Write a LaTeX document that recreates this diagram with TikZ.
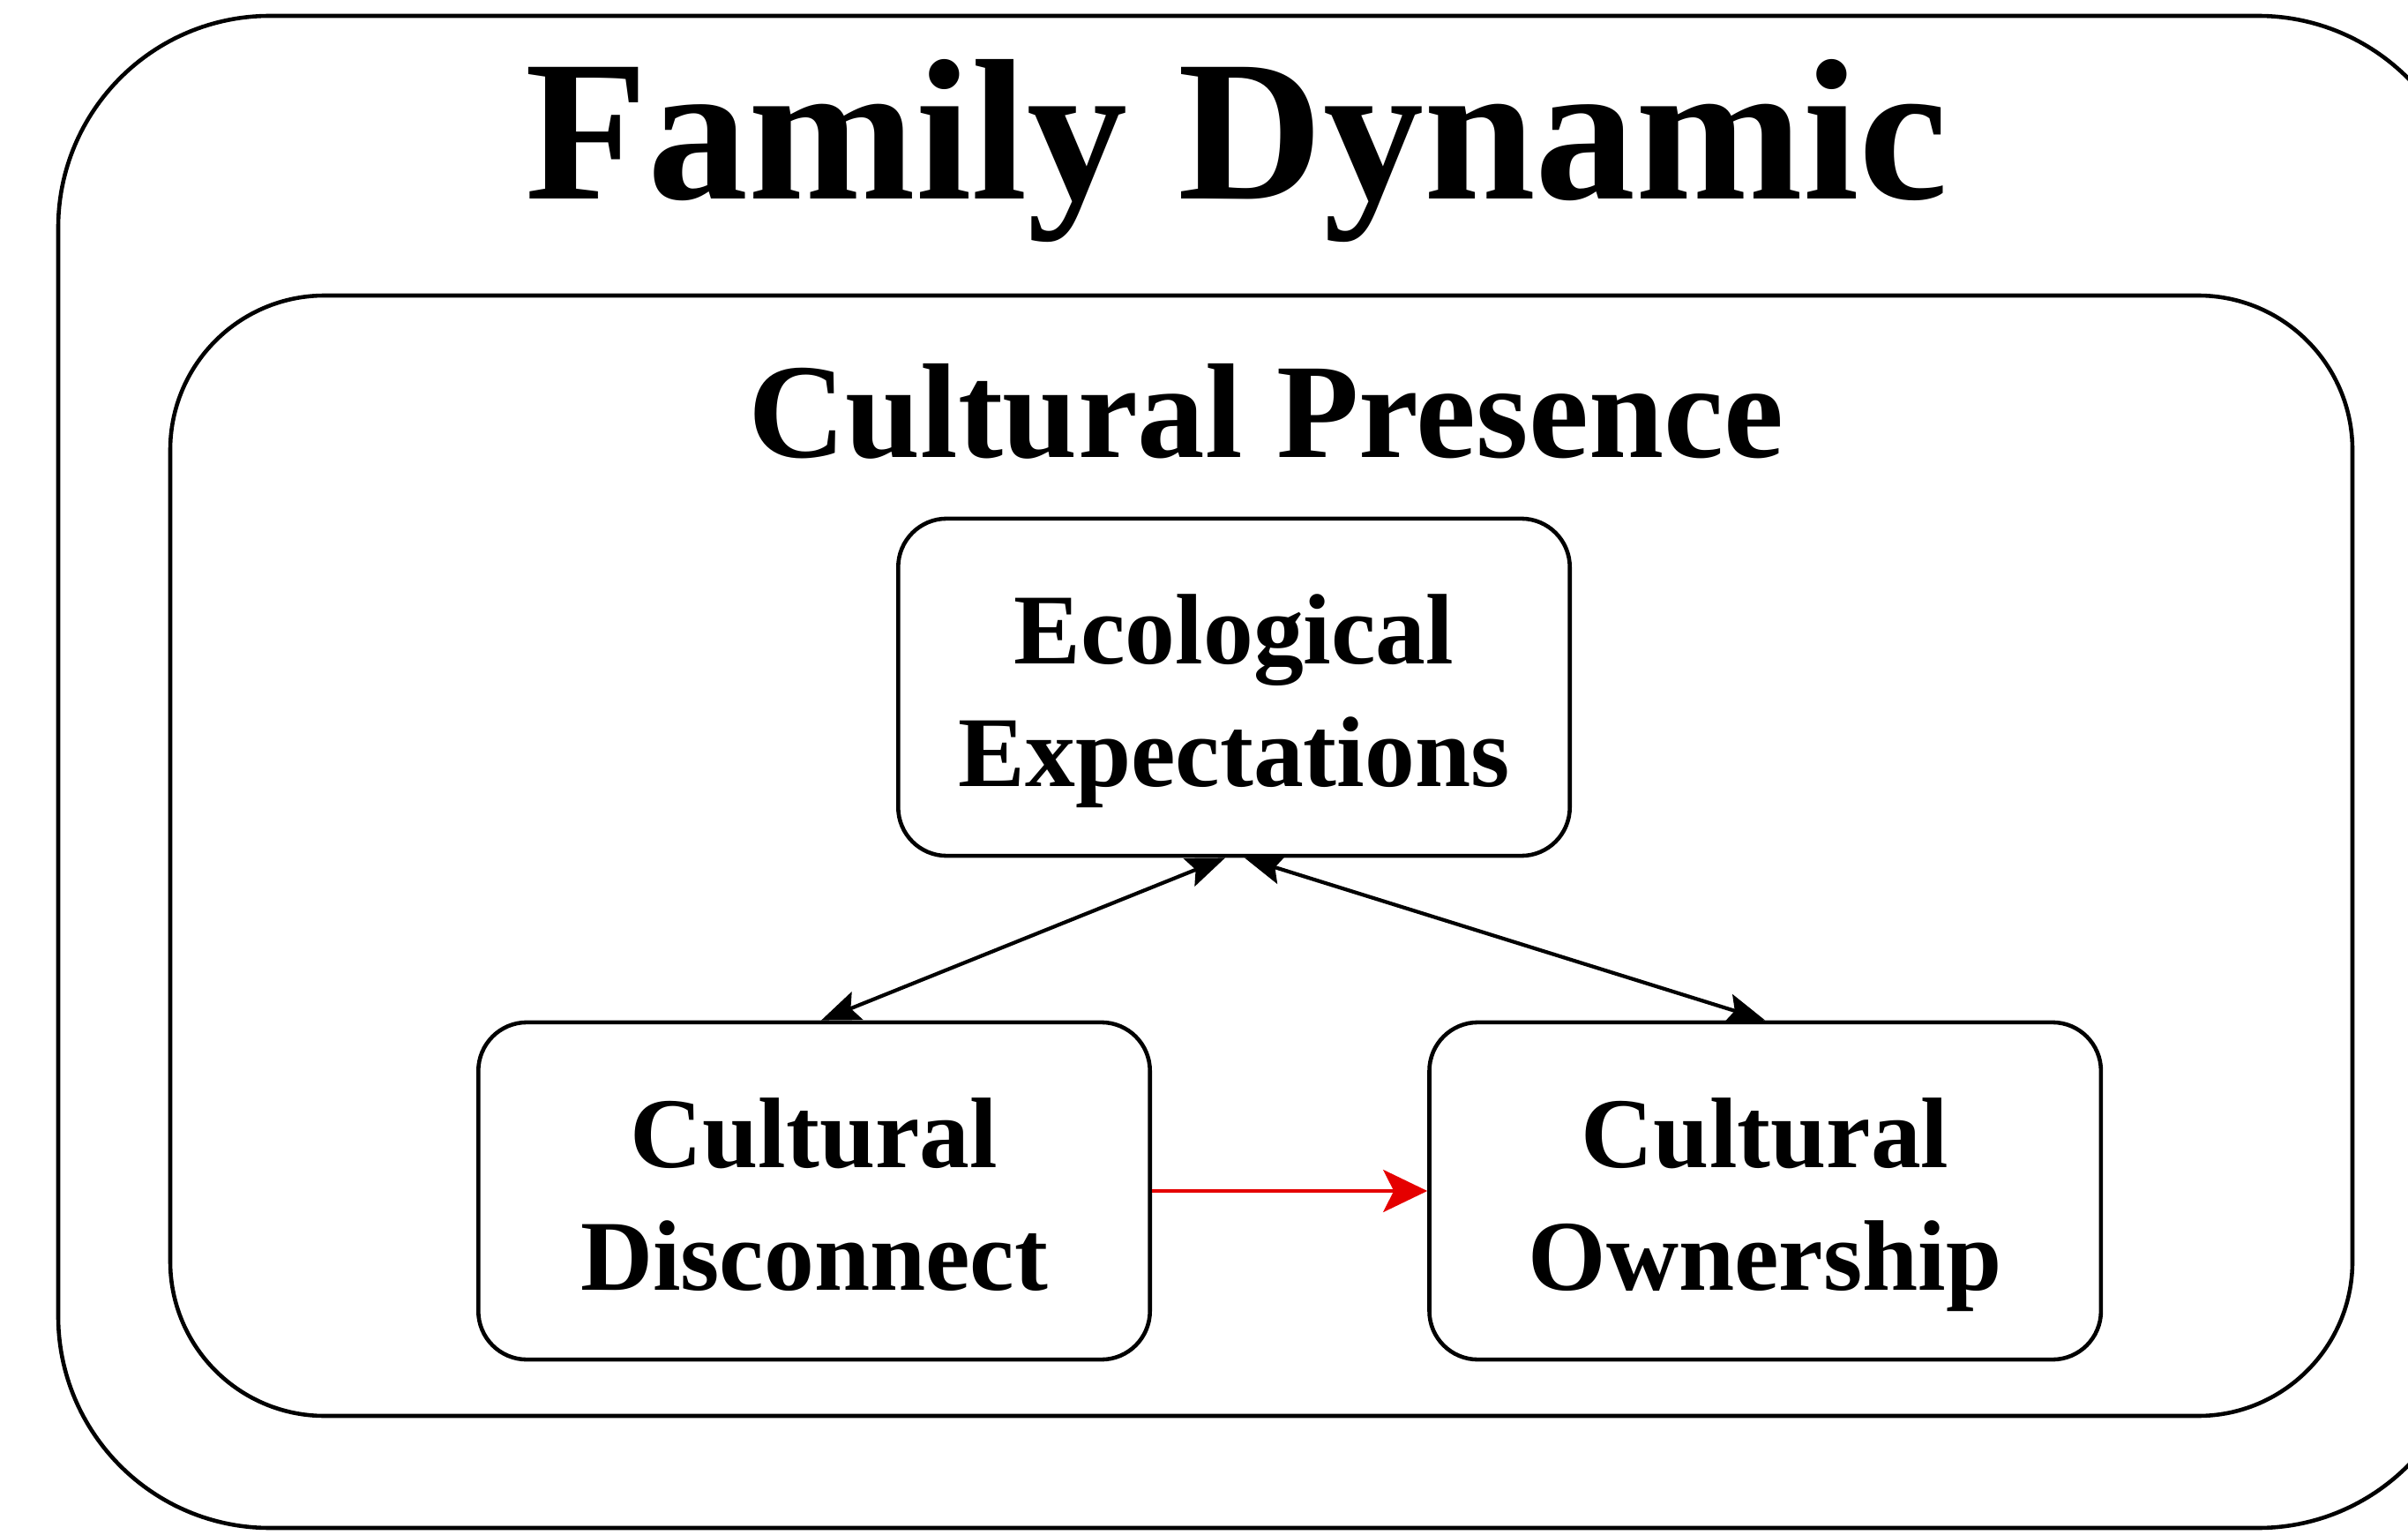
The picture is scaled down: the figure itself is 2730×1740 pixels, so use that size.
\documentclass[tikz,border=0pt]{standalone}
\usepackage{fontspec}
\setmainfont{Liberation Serif}
\usetikzlibrary{positioning,arrows.meta}
\newcommand{\boxlines}[2]{\rule{0pt}{0.81\baselineskip}#1\\#2\rule[-0.19\baselineskip]{0pt}{0.19\baselineskip}}

\begin{document}
\begin{tikzpicture}[
  x=0.01cm, y=-0.01cm,
  frame/.style={draw,line width=1.3pt},
  box/.style={draw,line width=1.3pt,rounded corners=0.55cm,
    minimum width=7.61cm,minimum height=3.82cm,align=center,
    font=\bfseries\fontsize{32.3pt}{39.5pt}\selectfont},
  head/.style={font=\bfseries\fontsize{#1}{#1}\selectfont,anchor=base},
  link/.style={line width=1.2pt,
    {Stealth[length=0.44cm,width=0.34cm,inset=0.08cm]}-{Stealth[length=0.44cm,width=0.34cm,inset=0.08cm]}},
  push/.style={line width=1.1pt,red!90!black,-{Stealth[length=0.5cm,width=0.48cm,inset=0.12cm]}},
  ]
  \useasboundingbox (0,0) rectangle (2730,1740);
  % frames
  \draw[frame,rounded corners=2.4cm] (66,18) rectangle (2800,1732);
  \draw[frame,rounded corners=1.75cm] (193,335) rectangle (2667,1605);
  \node[head=64.8pt] (family) at (1402,226) {Family Dynamic};
  \node[head=43.5pt] (presence) at (1435,519) {Cultural Presence};
  % boxes
  \node[box] (eco) at (1399,779) {\boxlines{Ecological}{Expectations}};
  \node[box] (dis) at (923,1350) {\boxlines{Cultural}{Disconnect}};
  \node[box,right=3.12cm of dis] (own) {\boxlines{Cultural}{Ownership}};
  \draw[link] ([xshift=-0.1cm]eco.south) -- ([xshift=0.08cm]dis.north);
  \draw[link] ([xshift=0.12cm]eco.south) -- (own.north);
  \draw[push] (dis) -- (own);
\end{tikzpicture}
\end{document}
